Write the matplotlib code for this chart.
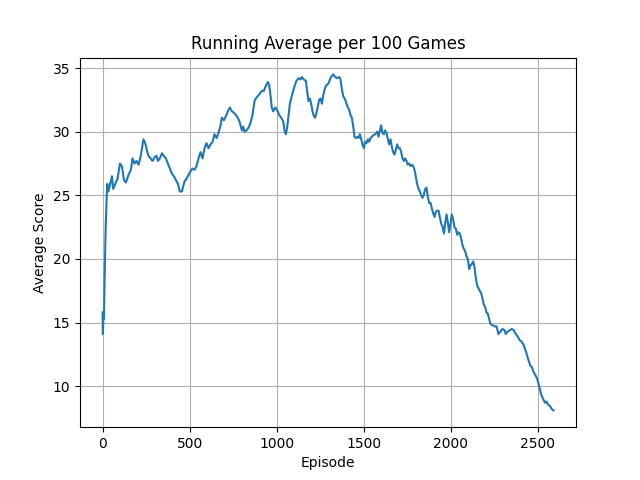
import matplotlib
matplotlib.use('Agg')
import matplotlib.pyplot as plt

# running average of score
episodes = [0, 2, 5, 8, 12, 18, 24, 27, 34, 42, 54, 61, 73, 86, 100, 111, 123, 134, 149,
            163, 172, 184, 195, 207, 218, 230, 235, 245, 257, 264, 276, 287, 299, 310,
            318, 329, 341, 352, 364, 375, 387, 398, 410, 421, 433, 444, 456, 463, 471,
            482, 494, 505, 517, 528, 540, 551, 563, 574, 586, 597, 609, 620, 632, 643,
            655, 666, 678, 685, 697, 708, 720, 731, 743, 754, 766, 777, 789, 800, 808,
            815, 827, 838, 850, 861, 873, 880, 892, 904, 915, 926, 938, 949, 957, 965,
            972, 980, 992, 1003, 1015, 1026, 1038, 1045, 1053, 1060, 1068, 1076, 1083,
            1091, 1099, 1106, 1114, 1126, 1137, 1145, 1156, 1168, 1175, 1183, 1191,
            1198, 1206, 1214, 1221, 1229, 1237, 1244, 1252, 1260, 1267, 1275, 1283,
            1290, 1298, 1306, 1313, 1325, 1336, 1348, 1359, 1367, 1374, 1382, 1394,
            1401, 1409, 1417, 1424, 1432, 1440, 1447, 1455, 1463, 1470, 1478, 1486,
            1493, 1501, 1508, 1516, 1524, 1531, 1539, 1547, 1554, 1566, 1578, 1585,
            1593, 1600, 1608, 1616, 1623, 1631, 1639, 1646, 1654, 1662, 1669, 1677,
            1685, 1692, 1700, 1708, 1715, 1723, 1731, 1738, 1746, 1753, 1761, 1769,
            1777, 1784, 1792, 1799, 1807, 1815, 1823, 1830, 1838, 1845, 1853, 1861,
            1868, 1876, 1884, 1891, 1899, 1907, 1914, 1922, 1930, 1937, 1945, 1953,
            1961, 1968, 1976, 1983, 1991, 1999, 2006, 2014, 2021, 2029, 2037, 2044,
            2052, 2060, 2067, 2075, 2083, 2090, 2098, 2106, 2113, 2121, 2129, 2136,
            2144, 2152, 2159, 2167, 2175, 2182, 2190, 2198, 2205, 2213, 2220, 2228,
            2240, 2251, 2263, 2274, 2286, 2297, 2309, 2316, 2328, 2339, 2351, 2362,
            2374, 2385, 2397, 2408, 2420, 2427, 2435, 2443, 2450, 2458, 2466, 2473,
            2481, 2489, 2496, 2504, 2511, 2519, 2527, 2534, 2542, 2550, 2557, 2565,
            2572, 2580, 2590]
scores = [15.8, 14.1, 15.6, 15.3, 18.5, 22.5, 25.0, 25.9, 25.3, 25.8, 26.5, 25.5, 25.9,
          26.3, 27.5, 27.3, 26.2, 26.0, 26.6, 27.0, 27.9, 27.5, 27.7, 27.4, 28.0, 29.0,
          29.4, 29.1, 28.4, 28.1, 27.9, 27.7, 28.0, 28.1, 27.7, 27.9, 28.3, 28.1, 27.9,
          27.5, 27.1, 26.7, 26.5, 26.2, 25.9, 25.3, 25.3, 25.7, 26.1, 26.3, 26.6, 26.9,
          27.1, 27.0, 27.3, 27.9, 28.4, 27.9, 28.7, 29.1, 28.7, 29.0, 29.2, 29.8, 29.5,
          29.9, 30.5, 31.1, 30.9, 31.2, 31.6, 31.9, 31.6, 31.5, 31.3, 31.1, 30.7, 30.1,
          30.4, 30.0, 30.1, 30.3, 30.7, 31.3, 32.4, 32.6, 32.8, 33.0, 33.2, 33.2, 33.6,
          33.9, 33.7, 32.8, 31.9, 31.6, 31.9, 31.7, 31.3, 31.1, 30.8, 30.1, 29.8, 30.3,
          31.2, 32.2, 32.6, 33.0, 33.4, 33.7, 34.0, 34.2, 34.1, 34.3, 34.1, 34.0, 33.2,
          32.4, 32.6, 32.2, 31.6, 31.2, 31.1, 31.5, 32.0, 32.5, 32.6, 32.2, 32.8, 33.3,
          33.6, 33.7, 33.8, 34.1, 34.3, 34.5, 34.3, 34.2, 34.3, 34.1, 33.4, 32.8, 32.5,
          32.2, 31.9, 31.7, 31.3, 31.1, 30.4, 29.6, 29.5, 29.6, 29.5, 29.8, 29.4, 29.0,
          28.7, 29.2, 29.1, 29.4, 29.2, 29.5, 29.6, 29.7, 29.8, 30.0, 29.6, 30.1, 30.5,
          29.9, 29.8, 30.1, 29.9, 29.4, 29.0, 29.4, 28.8, 28.4, 28.2, 28.6, 29.0, 28.7,
          28.7, 28.4, 27.9, 27.7, 27.9, 27.7, 27.4, 27.5, 27.3, 27.4, 27.3, 27.0, 26.5,
          25.9, 25.5, 25.3, 25.0, 24.8, 25.0, 25.5, 25.6, 24.9, 24.4, 24.4, 24.0, 23.6,
          23.3, 23.7, 23.8, 23.8, 23.3, 22.8, 22.5, 22.0, 22.8, 23.5, 22.9, 22.1, 22.8,
          23.5, 23.1, 22.5, 22.4, 21.9, 22.1, 22.0, 21.6, 21.1, 20.8, 20.6, 20.2, 20.0,
          19.2, 19.5, 19.6, 19.8, 19.4, 18.5, 17.9, 17.7, 17.5, 17.3, 16.9, 16.4, 16.2,
          15.8, 15.7, 15.3, 14.9, 14.8, 14.7, 14.7, 14.1, 14.3, 14.5, 14.4, 14.1, 14.3,
          14.4, 14.5, 14.4, 14.1, 13.9, 13.6, 13.5, 13.2, 12.9, 12.6, 12.2, 11.9, 11.6,
          11.5, 11.2, 11.0, 10.8, 10.6, 10.2, 9.8, 9.4, 9.1, 8.9, 8.7, 8.8, 8.6, 8.5,
          8.4, 8.2, 8.1]

plt.figure(figsize=(6.4, 4.8), dpi=100)
plt.plot(episodes, scores)
plt.title('Running Average per 100 Games')
plt.xlabel('Episode')
plt.ylabel('Average Score')
plt.grid(True)
plt.savefig('out.png')
